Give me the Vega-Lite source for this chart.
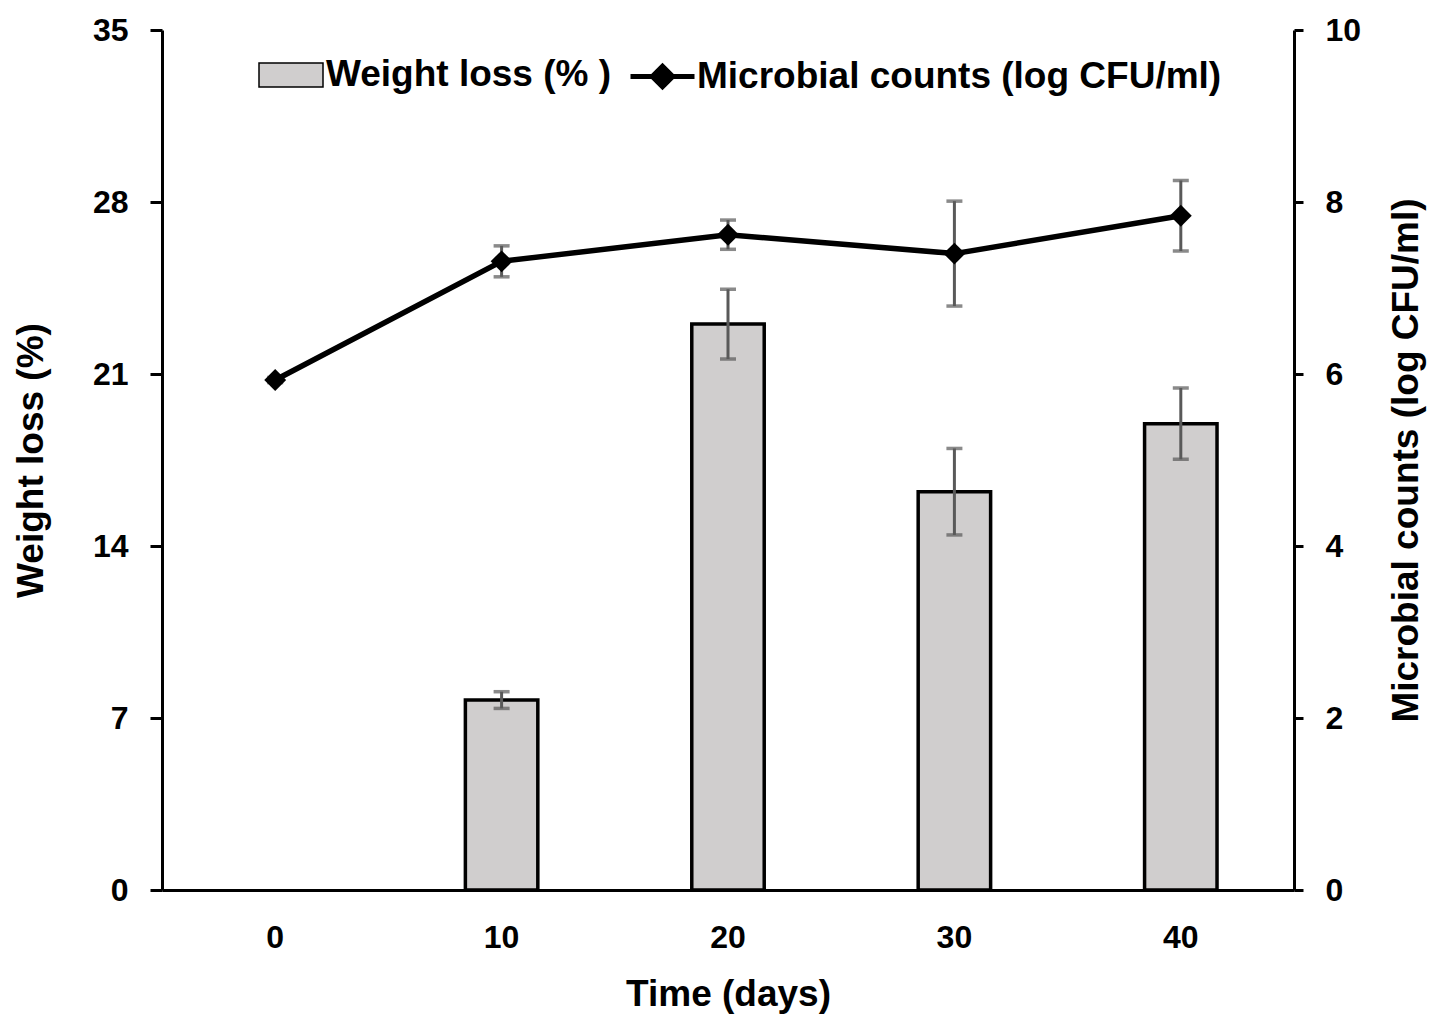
{
  "$schema": "https://vega.github.io/schema/vega-lite/v6.json",
  "width": 1132,
  "height": 860,
  "autosize": {"type": "none"},
  "padding": {"left": 162, "top": 30, "right": 150, "bottom": 131},
  "background": "white",
  "config": {
    "view": {"stroke": null},
    "font": "Liberation Sans",
    "axis": {
      "domainColor": "black",
      "domainWidth": 3,
      "tickColor": "black",
      "tickWidth": 3,
      "labelFont": "Liberation Sans",
      "labelFontWeight": "bold",
      "labelColor": "black",
      "titleFont": "Liberation Sans",
      "titleFontWeight": "bold",
      "titleColor": "black",
      "grid": false
    },
    "legend": {
      "labelFont": "Liberation Sans",
      "labelFontWeight": "bold",
      "labelColor": "black",
      "labelFontSize": 37,
      "labelLimit": 0,
      "padding": 0
    }
  },
  "data": {
    "values": [
      {"day": "0", "wl": 0, "wl_sd": 0, "mc": 5.93, "mc_sd": 0.03},
      {"day": "10", "wl": 7.73, "wl_sd": 0.34, "mc": 7.31, "mc_sd": 0.18},
      {"day": "20", "wl": 23.03, "wl_sd": 1.42, "mc": 7.62, "mc_sd": 0.17},
      {"day": "30", "wl": 16.21, "wl_sd": 1.76, "mc": 7.40, "mc_sd": 0.61},
      {"day": "40", "wl": 18.98, "wl_sd": 1.45, "mc": 7.84, "mc_sd": 0.41}
    ]
  },
  "encoding": {
    "x": {
      "field": "day",
      "type": "ordinal",
      "sort": ["0", "10", "20", "30", "40"],
      "scale": {"domain": ["0", "10", "20", "30", "40"], "paddingInner": 0.68, "paddingOuter": 0.34},
      "axis": {
        "title": "Time (days)",
        "titleFontSize": 37,
        "titlePadding": 23,
        "labelFontSize": 32,
        "labelAngle": 0,
        "labelPadding": 32,
        "ticks": false,
        "tickSize": 0
      }
    }
  },
  "layer": [
    {
      "layer": [
        {
          "transform": [{"filter": "datum.wl > 0"}],
          "mark": {"type": "bar", "stroke": "black", "strokeWidth": 3.5},
          "encoding": {
            "y": {
              "field": "wl",
              "type": "quantitative",
              "scale": {"domain": [0, 35], "nice": false, "zero": true},
              "axis": {
                "title": "Weight loss (%)",
                "titleFontSize": 37,
                "titlePadding": 42,
                "values": [0, 7, 14, 21, 28, 35],
                "labelFontSize": 32,
                "labelPadding": 22,
                "tickSize": 12,
                "orient": "left"
              }
            },
            "fill": {
              "datum": "Weight loss (% )",
              "scale": {"range": ["#d0cece"]},
              "legend": {
                "title": null,
                "orient": "none",
                "legendX": 96,
                "legendY": 12,
                "symbolType": "M-1,-0.375h2v0.75h-2z",
                "symbolSize": 4096,
                "labelOffset": 2,
                "encode": {
                  "symbols": {
                    "update": {
                      "fill": {"value": "#d0cece"},
                      "stroke": {"value": "black"},
                      "strokeWidth": {"value": 4},
                      "opacity": {"value": 1}
                    }
                  }
                }
              }
            }
          }
        },
        {
          "transform": [{"filter": "datum.wl > 0"}],
          "mark": {
            "type": "errorbar",
            "color": "#595959",
            "rule": {"strokeWidth": 3},
            "ticks": {"size": 16, "thickness": 3.5, "color": "#595959"}
          },
          "encoding": {
            "y": {"field": "wl", "type": "quantitative", "title": "Weight loss (%)"},
            "yError": {"field": "wl_sd"}
          }
        }
      ]
    },
    {
      "layer": [
        {
          "mark": {
            "type": "errorbar",
            "color": "#595959",
            "rule": {"strokeWidth": 3},
            "ticks": {"size": 16, "thickness": 3.5, "color": "#595959"}
          },
          "encoding": {
            "y": {
              "field": "mc",
              "type": "quantitative",
              "title": "Microbial counts (log CFU/ml)",
              "scale": {"domain": [0, 10], "nice": false}
            },
            "yError": {"field": "mc_sd"}
          }
        },
        {
          "mark": {"type": "line", "strokeWidth": 5.5},
          "encoding": {
            "y": {
              "field": "mc",
              "type": "quantitative",
              "scale": {"domain": [0, 10], "nice": false},
              "axis": {
                "title": "Microbial counts (log CFU/ml)",
                "orient": "right",
                "titleAngle": 270,
                "titleFontSize": 37,
                "titlePadding": 65,
                "values": [0, 2, 4, 6, 8, 10],
                "format": "d",
                "labelFontSize": 32,
                "labelPadding": 22,
                "tickSize": 9
              }
            },
            "stroke": {
              "datum": "Microbial counts (log CFU/ml)",
              "scale": {"range": ["black"]},
              "legend": {
                "title": null,
                "orient": "none",
                "legendX": 466,
                "legendY": 12,
                "symbolType": "M-1,0H1M-0.32,0L0,-0.32L0.32,0L0,0.32Z",
                "symbolSize": 4096,
                "labelOffset": 0,
                "encode": {
                  "symbols": {
                    "update": {
                      "fill": {"value": "black"},
                      "stroke": {"value": "black"},
                      "strokeWidth": {"value": 5},
                      "opacity": {"value": 1}
                    }
                  }
                }
              }
            }
          }
        },
        {
          "mark": {"type": "point", "shape": "diamond", "filled": true, "size": 480, "color": "black", "opacity": 1},
          "encoding": {
            "y": {"field": "mc", "type": "quantitative"}
          }
        }
      ]
    }
  ],
  "resolve": {"scale": {"y": "independent"}}
}
